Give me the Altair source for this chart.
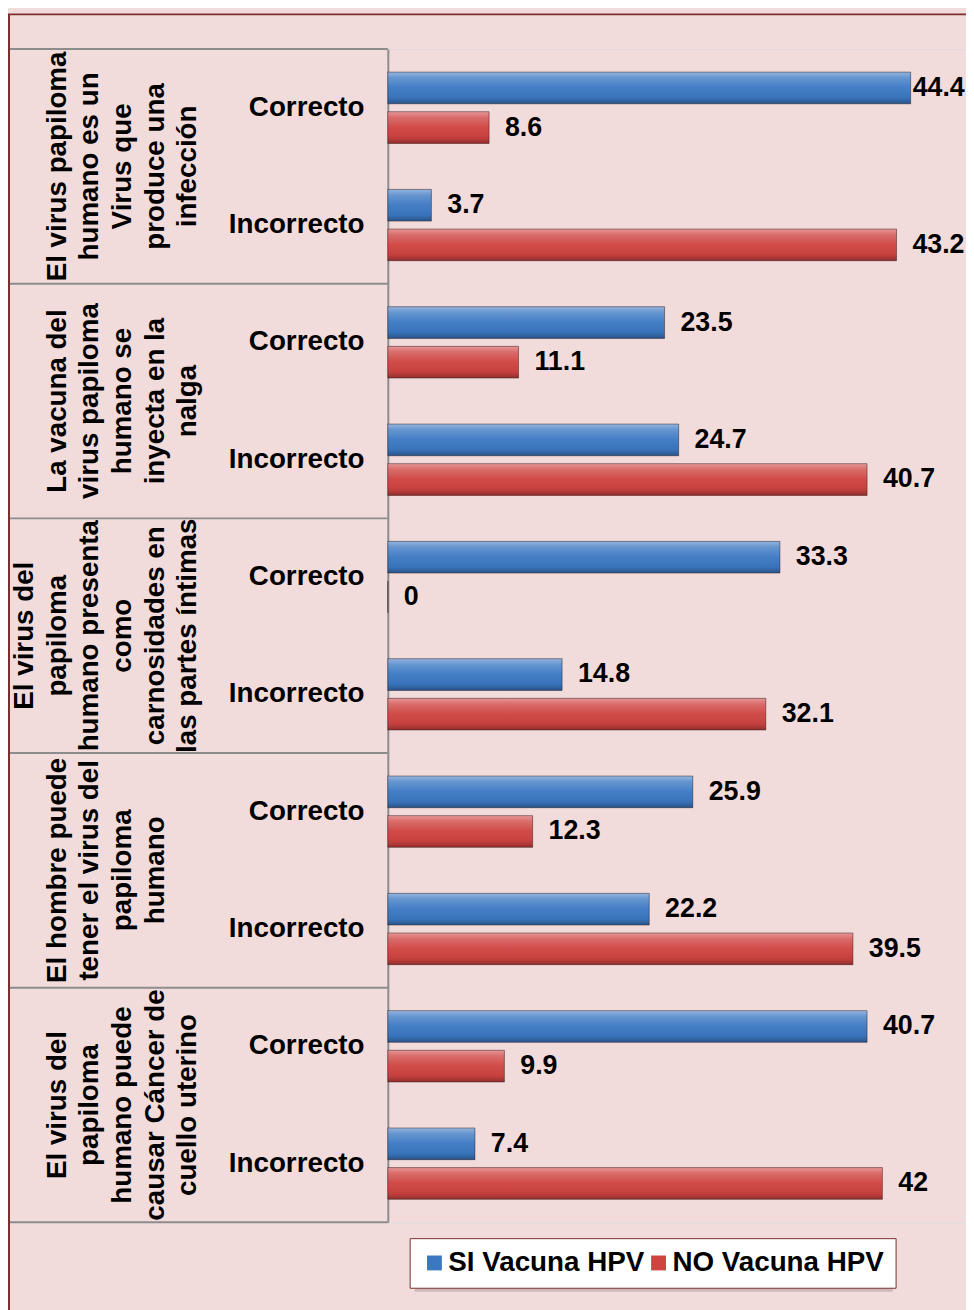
import altair as alt
import pandas as pd

# ---------------- data ----------------
group_ids = ["G1", "G2", "G3", "G4", "G5"]
group_labels = [
    "El virus papiloma\nhumano es un\nVirus que\nproduce una\ninfección",
    "La vacuna del\nvirus papiloma\nhumano se\ninyecta en la\nnalga",
    "El  virus del\npapiloma\nhumano presenta\ncomo\ncarnosidades en\nlas partes íntimas",
    "El  hombre puede\ntener el virus del\npapiloma\nhumano",
    "El  virus del\npapiloma\nhumano puede\ncausar Cáncer de\ncuello uterino",
]
answers = ["Correcto", "Incorrecto"]
series = ["SI Vacuna HPV", "NO Vacuna HPV"]
si_values = [44.4, 3.7, 23.5, 24.7, 33.3, 14.8, 25.9, 22.2, 40.7, 7.4]
no_values = [8.6, 43.2, 11.1, 40.7, 0, 32.1, 12.3, 39.5, 9.9, 42]

keys = [f"{g}|{a}" for g in group_ids for a in answers]

rows = []
for i, k in enumerate(keys):
    rows.append({"key": k, "s": series[0], "v": si_values[i]})
    rows.append({"key": k, "s": series[1], "v": no_values[i]})
df = pd.DataFrame(rows)

# group labels: lines are bottom-aligned (last line on the right), so pad to 6 lines
MAXL = 6
def padded(lbl):
    lines = lbl.split("\n")
    return [""] * (MAXL - len(lines)) + lines

df_groups = pd.DataFrame({
    "key": [f"{g}|Incorrecto" for g in group_ids],
    "label": [padded(lbl) for lbl in group_labels],
})
df_tops = pd.DataFrame({"key": [f"{g}|Correcto" for g in group_ids]})
df_bottom = pd.DataFrame({"key": [keys[-1]]})

# ---------------- style ----------------
FONT = "Liberation Sans"
BG = "#f2dcdb"
BORDER = "#7b2c2c"
GRID = "#8c8c8c"
BLUE = "#3b78c3"
RED = "#cf4341"

W, H = 583, 1183
PAD_L, PAD_T, PAD_B = 383, 36, 83
LEG_X, LEG_Y = 22, 1199

y_enc = alt.Y(
    "key:N",
    sort=keys,
    scale=alt.Scale(paddingInner=0, paddingOuter=0),
    axis=alt.Axis(
        title=None,
        labelExpr="split(datum.label, '|')[1]",
        labelFontSize=28,
        labelFontWeight="bold",
        labelColor="black",
        labelFont=FONT,
        labelPadding=24,
        ticks=False,
        grid=False,
        domainColor=GRID,
        domainWidth=2,
        labelLimit=300,
    ),
)
yoff_enc = alt.YOffset(
    "s:N", sort=series, scale=alt.Scale(paddingInner=0.2, paddingOuter=0.58)
)
x_enc = alt.X("v:Q", scale=alt.Scale(domain=[0, 49.1], nice=False, zero=True), axis=None)

base = alt.Chart(df)

bars = base.mark_bar().encode(
    x=x_enc,
    y=y_enc,
    yOffset=yoff_enc,
    color=alt.Color(
        "s:N",
        sort=series,
        scale=alt.Scale(domain=series, range=[BLUE, RED]),
        legend=alt.Legend(
            orient="none",
            legendX=LEG_X,
            legendY=LEG_Y,
            direction="horizontal",
            title=None,
            symbolType="square",
            symbolSize=225,
            symbolStrokeWidth=0,
            labelFontSize=28,
            labelFontWeight="bold",
            labelFont=FONT,
            labelColor="black",
            labelLimit=400,
            labelOffset=0,
            columnPadding=0,
            padding=11,
            fillColor="white",
            strokeColor=BORDER,
        ),
    ),
)

gloss = alt.Gradient(
    gradient="linear",
    x1=0, x2=0, y1=0, y2=1,
    stops=[
        alt.GradientStop(color="rgba(255,255,255,0.45)", offset=0),
        alt.GradientStop(color="rgba(255,255,255,0.22)", offset=0.18),
        alt.GradientStop(color="rgba(255,255,255,0.04)", offset=0.5),
        alt.GradientStop(color="rgba(0,0,0,0.06)", offset=0.82),
        alt.GradientStop(color="rgba(0,0,0,0.30)", offset=1),
    ],
)
overlay = base.mark_bar(fill=gloss, stroke="rgba(40,20,20,0.45)", strokeWidth=1).encode(
    x=x_enc, y=y_enc, yOffset=yoff_enc
)

text_props = dict(
    align="left", baseline="middle", fontSize=27, fontWeight="bold", font=FONT, color="black"
)
labels_normal = base.transform_filter("datum.v < 44").mark_text(dx=16, **text_props).encode(
    x=x_enc, y=y_enc, yOffset=yoff_enc, text=alt.Text("v:N")
)
labels_edge = base.transform_filter("datum.v >= 44").mark_text(dx=2, **text_props).encode(
    x=x_enc, y=y_enc, yOffset=yoff_enc, text=alt.Text("v:N")
)

group_text = alt.Chart(df_groups).mark_text(
    angle=270,
    align="center",
    baseline="bottom",
    fontSize=28,
    fontWeight="bold",
    font=FONT,
    lineHeight=33,
    color="black",
).encode(
    y=alt.Y("key:N", sort=keys, bandPosition=0),
    x=alt.value(-352),
    text="label",
)

top_rules = alt.Chart(df_tops).mark_rule(color=GRID, strokeWidth=2).encode(
    y=alt.Y("key:N", sort=keys, bandPosition=0),
    x=alt.value(-381),
    x2=alt.value(0),
)
bottom_rule = alt.Chart(df_bottom).mark_rule(color=GRID, strokeWidth=2).encode(
    y=alt.Y("key:N", sort=keys, bandPosition=1),
    x=alt.value(-381),
    x2=alt.value(0),
)

frame = alt.Chart(df_bottom).mark_rect(fill=None, stroke=BORDER, strokeWidth=2).encode(
    x=alt.value(-PAD_L + 1),
    x2=alt.value(W + 40),
    y=alt.value(-PAD_T + 1),
    y2=alt.value(H + 200),
)

# soft drop shadow behind the legend box
legend_shadow = alt.Chart(df_bottom).mark_rect(fill="rgba(90,60,60,0.22)").encode(
    x=alt.value(LEG_X + 5),
    x2=alt.value(LEG_X + 487),
    y=alt.value(LEG_Y + 5),
    y2=alt.value(LEG_Y + 54),
)

chart = alt.layer(
    frame, top_rules, bottom_rule, group_text, legend_shadow, bars, overlay,
    labels_normal, labels_edge
).properties(
    width=W,
    height=H,
    padding={"left": PAD_L, "top": PAD_T, "right": 0, "bottom": PAD_B},
    autosize=alt.AutoSizeParams(type="none"),
    background=BG,
).configure_view(
    stroke=None
).configure(
    font=FONT
)

chart.save("out.html", embed_options={"renderer": "svg", "actions": False})
